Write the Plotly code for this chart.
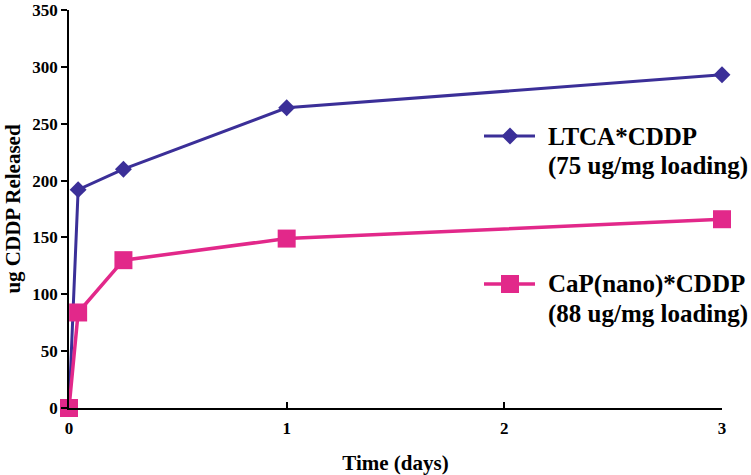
import plotly.graph_objects as go

# Release time points (days) and cumulative CDDP released (ug)
time_days = [0, 0.042, 0.25, 1, 3]
ltca_release = [0, 192, 210, 264, 293]
cap_release = [0, 84, 130, 149, 166]

ltca_label = ["LTCA*CDDP", "(75 ug/mg loading)"]
cap_label = ["CaP(nano)*CDDP", "(88 ug/mg loading)"]

y_ticks = [0, 50, 100, 150, 200, 250, 300, 350]
x_ticks = [0, 1, 2, 3]

BLUE = "#3B2F98"
PINK = "#E2288A"
FONT = "Liberation Serif"

# plot area in pixels, used to place the key
L, R, T, B = 69, 722, 10, 408


def px_x(p):
    return (p - L) / (R - L)


def px_y(p):
    return (B - p) / (B - T)


fig = go.Figure()
fig.add_trace(go.Scatter(
    x=time_days, y=ltca_release, mode="lines+markers",
    line=dict(color=BLUE, width=3),
    marker=dict(symbol="diamond", size=13, color=BLUE),
    cliponaxis=False, showlegend=False,
))
fig.add_trace(go.Scatter(
    x=time_days, y=cap_release, mode="lines+markers",
    line=dict(color=PINK, width=3.5),
    marker=dict(symbol="square", size=18, color=PINK),
    cliponaxis=False, showlegend=False,
))

# key: sample line + marker + two-line label for each series
key = [
    (ltca_label, BLUE, "diamond", 13, 3, 136),
    (cap_label, PINK, "square", 18, 3.5, 284),
]
for label, color, symbol, size, lw, ypx in key:
    fig.add_shape(type="line", xref="paper", yref="paper",
                  x0=px_x(484), x1=px_x(535), y0=px_y(ypx), y1=px_y(ypx),
                  line=dict(color=color, width=lw))
    fig.add_trace(go.Scatter(
        x=[px_x(510)], y=[px_y(ypx)], xaxis="x2", yaxis="y2",
        mode="markers", marker=dict(symbol=symbol, size=size, color=color),
        showlegend=False, hoverinfo="skip", cliponaxis=False,
    ))
    for i, line in enumerate(label):
        fig.add_annotation(
            x=px_x(546), y=px_y(ypx + 30 * i), xref="paper", yref="paper",
            xanchor="left", yanchor="middle", showarrow=False,
            text=f"<b>{line}</b>",
            font=dict(family=FONT, size=25, color="black"),
        )

fig.update_layout(
    width=751, height=475,
    margin=dict(l=L, r=751 - R, t=T, b=475 - B),
    paper_bgcolor="white", plot_bgcolor="white",
    font=dict(family=FONT, color="black"),
    showlegend=False,
    xaxis=dict(
        range=[0, 3], tickvals=x_ticks, ticktext=[f"<b>{v}</b>" for v in x_ticks],
        showline=True, linecolor="black", linewidth=1.5,
        ticks="inside", ticklen=6, tickcolor="black", tickwidth=1.5,
        showgrid=False, zeroline=False, automargin=False,
        ticklabelstandoff=4,
        tickfont=dict(family=FONT, size=17),
        title=dict(text="<b>Time (days)</b>", font=dict(family=FONT, size=21), standoff=18),
    ),
    yaxis=dict(
        range=[0, 350], tickvals=y_ticks, ticktext=[f"<b>{v}</b>" for v in y_ticks],
        showline=True, linecolor="black", linewidth=1.5,
        ticks="outside", ticklen=6, tickcolor="black", tickwidth=1.5,
        showgrid=False, zeroline=False, automargin=False,
        tickfont=dict(family=FONT, size=17),
        title=dict(text="<b>ug CDDP Released</b>", font=dict(family=FONT, size=21), standoff=6),
    ),
    xaxis2=dict(domain=[0, 1], range=[0, 1], overlaying="x", visible=False, fixedrange=True),
    yaxis2=dict(domain=[0, 1], range=[0, 1], overlaying="y", visible=False, fixedrange=True),
)

fig.write_html("out.html")
